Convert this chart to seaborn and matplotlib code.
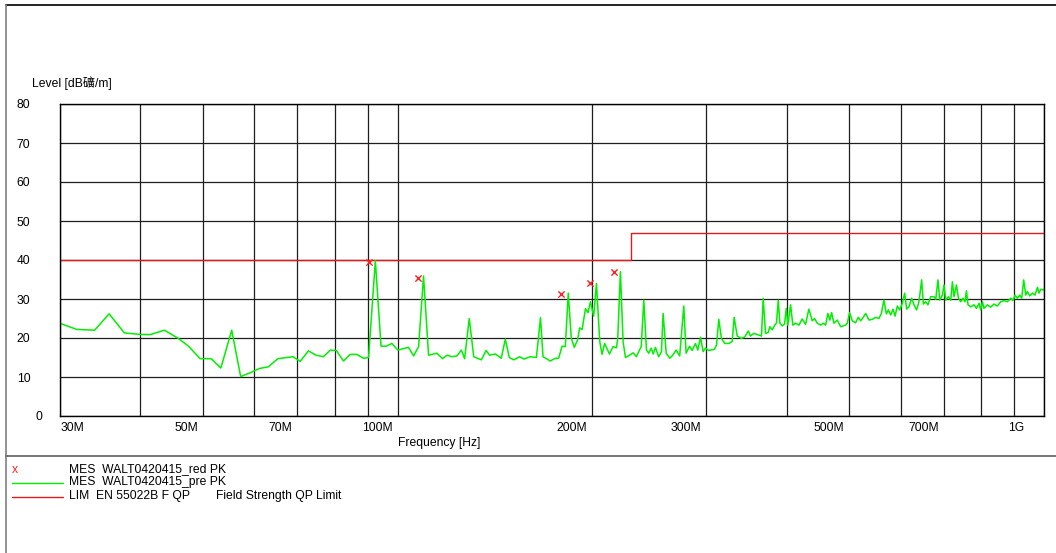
import numpy as np
import pandas as pd
import matplotlib
matplotlib.use('Agg')
import matplotlib.pyplot as plt
import matplotlib.transforms as mtransforms
from matplotlib.lines import Line2D
import seaborn as sns

freq_mhz = [
    30.0, 31.9, 34.0, 35.8, 37.8, 40.1, 41.5, 43.6, 45.8, 47.5, 49.5,
    51.5, 53.3, 55.4, 57.2, 59.2, 61.2, 63.1, 65.3, 68.9, 70.7, 72.8, 74.8, 76.8, 78.7, 80.4, 82.5, 84.5,
    86.5, 88.6, 90.2, 92.4, 94.3, 96.0, 98.0, 100.1, 102.2, 104.0, 105.9, 107.8, 109.7, 111.7, 115.1,
    117.4, 119.3, 121.4, 123.6, 125.5, 127.0, 129.1, 131.2, 134.8, 137.1, 138.8, 141.7,
    144.7, 146.8, 148.9, 151.3, 154.5, 156.8, 160.5, 164.0, 166.4, 167.9, 172.3, 175.4, 177.5, 179.7,
    181.8, 183.7, 185.7, 187.7, 189.9, 191.3, 193.0, 195.3, 197.1, 198.8, 201.1, 203.1, 205.5, 207.2,
    209.1, 212.7, 215.5, 218.1, 219.1, 221.2, 223.3, 225.2, 228.6, 231.4, 234.2, 236.1,
    238.2, 240.4, 242.7, 244.7, 246.8, 248.6, 250.6, 253.5, 256.0, 257.5, 260.4, 263.7, 266.5, 269.8,
    273.2, 277.2, 279.5, 282.9, 285.6, 289.0, 291.4, 294.2, 297.0, 299.4, 303.0, 309.2, 311.5, 314.0,
    317.0, 320.8, 325.4, 329.4, 331.7, 335.3, 340.5, 344.5, 348.7, 351.6, 355.7, 361.4, 365.6, 367.8,
    370.9, 374.5, 376.6, 379.9, 383.4, 385.7, 388.1, 390.3, 393.7,
    396.9, 399.3, 401.6, 405.5, 408.8, 412.7, 417.7, 422.7, 427.7, 432.8, 438.1, 441.7, 445.9, 451.3,
    455.6, 459.4, 463.1, 466.4, 469.3, 473.1, 478.9, 484.6, 493.3, 496.3, 500.3, 505.2, 511.2, 516.1,
    520.4, 525.4, 529.8, 536.0, 542.6, 549.0, 555.5, 560.3, 565.4, 570.3, 574.4, 579.2, 584.0, 588.2,
    593.2, 598.0, 603.8, 608.8, 613.2, 618.2, 624.2, 629.4, 635.3, 640.6, 646.8, 650.7, 656.1, 661.4, 667.9,
    675.8, 680.0, 685.5, 689.8, 696.3, 700.4, 704.6, 711.4, 717.3, 721.6, 725.8, 732.0, 737.3, 743.4,
    749.4, 754.8, 758.6, 763.0, 770.2, 779.5, 786.2, 793.5, 798.2, 803.2, 807.5, 817.4, 827.0, 836.8,
    847.1, 857.1, 867.2, 877.8, 888.2, 895.4, 901.8, 909.5, 917.1, 923.7, 930.3, 937.0, 942.6, 950.4,
    959.7, 968.6, 976.9, 982.5, 988.4, 996.6, 1000.0,
]
level_db = [
    23.8, 22.2, 22.0, 26.2, 21.3, 20.9, 20.9, 22.0, 19.9, 17.9, 14.7,
    14.7, 12.3, 22.0, 10.1, 11.1, 12.2, 12.6, 14.7, 15.2, 14.0, 16.7, 15.6, 15.2, 16.9, 16.8, 14.1, 15.8,
    15.8, 14.8, 15.0, 39.8, 17.9, 17.9, 18.6, 16.9, 17.3, 17.6, 15.4, 17.8, 35.9, 15.6, 16.1,
    14.7, 15.6, 15.2, 15.4, 16.9, 14.7, 25.0, 15.2, 14.4, 16.8, 15.6, 15.9,
    14.8, 19.7, 15.0, 14.4, 15.2, 14.6, 15.2, 15.0, 25.2, 15.2, 14.1, 14.8, 14.8, 17.9,
    17.8, 31.5, 19.9, 17.6, 19.5, 22.6, 22.2, 27.5, 26.5, 29.3, 25.6, 34.0, 19.1, 15.8,
    18.6, 15.9, 17.8, 17.5, 19.9, 37.0, 19.1, 15.0, 15.6, 16.2, 15.2, 16.5,
    17.8, 29.7, 16.9, 16.1, 17.4, 15.9, 17.6, 15.2, 16.5, 26.3, 16.1, 14.8, 15.6, 16.9,
    15.4, 28.2, 16.1, 17.9, 16.8, 18.6, 16.9, 20.2, 16.5, 17.4, 16.8, 17.1, 18.2, 24.8,
    19.9, 18.6, 18.6, 19.1, 25.3, 20.5, 19.9, 20.3, 21.8, 20.5, 21.2, 20.8, 20.5, 30.2,
    21.2, 21.4, 22.9, 22.1, 23.3, 23.9, 29.7, 23.8, 23.1,
    23.6, 27.6, 23.3, 28.5, 23.3, 23.8, 23.3, 24.9, 23.5, 27.4, 24.4, 25.0, 23.8, 23.3,
    23.8, 23.3, 26.3, 24.6, 26.5, 23.8, 24.6, 22.9, 23.3, 23.8, 26.5, 24.4, 23.9, 25.3,
    24.4, 25.3, 26.3, 24.6, 24.8, 25.3, 25.0, 26.3, 29.7, 26.2, 27.2, 25.9, 27.4, 25.6,
    28.2, 27.2, 28.9, 31.5, 27.4, 28.0, 30.2, 28.5, 27.2, 29.3, 34.9, 28.7, 29.3, 28.5, 30.6,
    30.6, 29.9, 34.9, 29.7, 31.0, 33.6, 29.7, 30.6, 29.7, 34.4, 30.6, 33.6, 30.2, 29.3,
    30.2, 29.3, 32.1, 28.5, 28.0, 28.5, 27.6, 28.9, 27.2, 29.3, 27.6, 28.5, 27.9, 28.7,
    28.2, 29.3, 29.6, 29.3, 30.2, 29.6, 31.0, 30.2, 31.0, 30.2, 34.9, 31.0, 31.9, 30.8,
    31.5, 31.0, 33.0, 31.5, 32.5, 32.3, 32.5,
]

# final measurement peaks
mark_freq = [90.2, 107.5, 179.2, 198.8, 215.9]
mark_level = [39.6, 35.5, 31.2, 34.0, 36.8]

# EN 55022 class B field strength QP limit
lim_freq = [30, 230, 1000]
lim_level = [40, 47, 47]

tick_freq = [30, 50, 70, 100, 200, 300, 500, 700, 1000]
tick_text = ['30M', '50M', '70M', '100M', '200M', '300M', '500M', '700M', '1G']
minor_freq = [40, 60, 80, 90, 400, 600, 800, 900]

trace = pd.DataFrame({'freq': freq_mhz, 'level': level_db})
marks = pd.DataFrame({'freq': mark_freq, 'level': mark_level})
limit = pd.DataFrame({'freq': lim_freq, 'level': lim_level})

sns.set_style('white')
plt.rcParams['font.family'] = ['Liberation Sans', 'Noto Sans CJK SC', 'DejaVu Sans']
plt.rcParams['text.color'] = 'black'

W, H = 1056, 553
fs = 8.7
fig = plt.figure(figsize=(W / 100, H / 100), dpi=100)
ax = fig.add_axes([59.5 / W, (H - 416) / H, 984.5 / W, 312 / H])
ax.set_xscale('log')

sns.lineplot(data=limit, x='freq', y='level', ax=ax, color='#e31a1c', lw=1,
             drawstyle='steps-post', estimator=None, sort=False, legend=False)
sns.lineplot(data=trace, x='freq', y='level', ax=ax, color='#00f000', lw=1.1,
             estimator=None, sort=False, legend=False)
sns.scatterplot(data=marks, x='freq', y='level', ax=ax, color='#ff2020', marker='x',
                s=20, linewidth=1, legend=False, zorder=5)

ax.set_xlim(30, 1000)
ax.set_ylim(0, 80)
ax.set_yticks(range(0, 81, 10))
ax.set_xticks(tick_freq)
ax.set_xticklabels(tick_text)
ax.set_xticks(minor_freq, minor=True)
ax.xaxis.set_minor_formatter(matplotlib.ticker.NullFormatter())
ax.grid(True, which='both', color='#1e1e1e', lw=0.9)
ax.tick_params(which='both', length=0, labelsize=fs, colors='black')
ax.tick_params(axis='x', pad=4.5)
ax.tick_params(axis='y', pad=21)
for sp in ax.spines.values():
    sp.set_color('black')
    sp.set_linewidth(1)

# the EMC software puts the frequency labels just left of their grid line
for lab in ax.get_xticklabels():
    txt = lab.get_text()
    if txt == '30M':
        lab.set_ha('left')
        dx = 1
    elif txt == '1G':
        lab.set_ha('right')
        dx = -20
    else:
        lab.set_ha('right')
        dx = -5
    lab.set_transform(lab.get_transform() + mtransforms.ScaledTranslation(dx / 100, 0, fig.dpi_scale_trans))
for lab in ax.get_yticklabels():
    lab.set_ha('right')
    if lab.get_text() == '0':
        lab.set_transform(lab.get_transform() + mtransforms.ScaledTranslation(12 / 100, 0, fig.dpi_scale_trans))

ax.set_ylabel('Level [dB礦/m]', rotation=0, ha='left', va='center', fontsize=fs, color='black')
ax.yaxis.set_label_coords((32 - 59.5) / 984.5, (416 - 82.7) / 312)
ax.set_xlabel('Frequency [Hz]', ha='center', va='center', fontsize=fs, color='black')
ax.xaxis.set_label_coords((439 - 59.5) / 984.5, -(443 - 416) / 312)

# page frame: top rule, left rule, legend separator
def px(x, y):
    return x / W, (H - y) / H

fig.add_artist(Line2D(*zip(px(6, 4.5), px(W, 4.5)), color='black', lw=1.2))
fig.add_artist(Line2D(*zip(px(6, 4.5), px(6, H)), color='#808080', lw=1.2))
fig.add_artist(Line2D(*zip(px(6, 456), px(W, 456)), color='#606060', lw=1.2))

# legend block
fig.text(*px(15, 470), 'x', color='#ff2020', fontsize=fs, ha='center', va='center')
fig.text(*px(69, 469.5), 'MES  WALT0420415_red PK', fontsize=fs, va='center')
fig.add_artist(Line2D(*zip(px(12, 482.5), px(63, 482.5)), color='#00f000', lw=1))
fig.text(*px(69, 482.5), 'MES  WALT0420415_pre PK', fontsize=fs, va='center')
fig.add_artist(Line2D(*zip(px(12, 496.5), px(63, 496.5)), color='#e31a1c', lw=1))
fig.text(*px(69, 496.5), 'LIM  EN 55022B F QP', fontsize=fs, va='center')
fig.text(*px(216, 496.5), 'Field Strength QP Limit', fontsize=fs, va='center')

fig.savefig('out.png', dpi=100)
